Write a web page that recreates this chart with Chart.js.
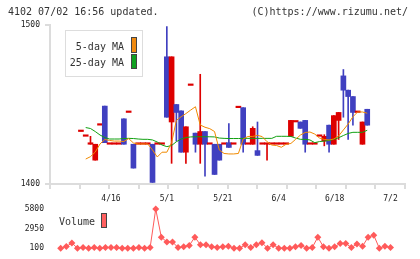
<!DOCTYPE html>
<html>
<head>
<meta charset="utf-8">
<script src="https://cdn.jsdelivr.net/npm/chart.js@4"></script>
<style>
body { margin: 0; background: #fff; font-family: 'DejaVu Sans Mono', monospace; color: #333; }
#wrap { position: relative; width: 420px; height: 259px; overflow: hidden; }
canvas { position: absolute; left: 0; }
.t { position: absolute; font-size: 10px; line-height: 14px; white-space: nowrap; }
.box { position: absolute; box-sizing: border-box; border: 1.5px solid #444; }
</style>
</head>
<body>
<div id="wrap">
  <canvas id="priceChart" width="420" height="200" style="top:0"></canvas>
  <canvas id="volumeChart" width="420" height="69" style="top:190px"></canvas>
  <div class="t" style="left:8px;top:5px">4102 07/02 16:56 updated.</div>
  <div class="t" style="right:12px;top:5px">(C)https://www.rizumu.net/</div>
  <div style="position:absolute;left:65px;top:30px;width:78px;height:47px;box-sizing:border-box;border:1px solid #ddd;background:#fff"></div>
  <div class="t" style="left:40px;width:84px;text-align:right;top:40px">5-day MA</div>
  <div class="box" style="left:131px;top:37px;width:6px;height:16px;background:#f08a10"></div>
  <div class="t" style="left:40px;width:84px;text-align:right;top:56px">25-day MA</div>
  <div class="box" style="left:131px;top:54px;width:6px;height:15px;background:#10a020"></div>
  <div class="t" style="left:59px;top:215px">Volume</div>
  <div class="box" style="left:101px;top:213px;width:6px;height:15px;background:#ff6060"></div>
</div>
<script>
const dates = ['4/2','4/3','4/4','4/5','4/8','4/9','4/10','4/11','4/12','4/15',
  '4/16','4/17','4/18','4/19','4/22','4/23','4/24','4/25','4/26','4/30',
  '5/1','5/8','5/9','5/10','5/13','5/14','5/15','5/16','5/17','5/20',
  '5/21','5/22','5/23','5/24','5/27','5/28','5/29','5/30','5/31','6/3',
  '6/4','6/5','6/6','6/7','6/10','6/11','6/12','6/13','6/14','6/17',
  '6/18','6/19','6/20','6/21','6/24','6/25','6/26','6/27','6/28','7/1','7/2'];

const opens = [1433,1430,1425,1415,1437,1449,1425,1425,1425,1441,1445,1425,1425,1425,1425,1425,1425,1425,1480,1439,
  1450,1446,1420,1462,1432,1425,1433,1425,1425,1425,1425,1426,1425,1448,1448,1425,1425,1421,1425,1425,
  1425,1425,1425,1425,1430,1439,1439,1440,1425,1425,1430,1427,1437,1425,1440,1468,1459,1455,1445,1425,1447];
const highs = [1433,1430,1430,1425,1437,1449,1425,1425,1425,1441,1445,1425,1425,1425,1425,1425,1425,1425,1499,1480,
  1450,1446,1436,1462,1432,1469,1433,1425,1425,1425,1425,1438,1425,1448,1448,1425,1436,1439,1425,1425,
  1425,1425,1425,1425,1440,1439,1439,1440,1425,1425,1430,1431,1437,1443,1445,1472,1459,1455,1445,1439,1447];
const lows = [1433,1430,1425,1415,1437,1426,1425,1425,1425,1425,1445,1410,1425,1425,1425,1401,1425,1425,1442,1413,
  1427,1420,1413,1462,1420,1413,1405,1425,1406,1415,1425,1423,1425,1448,1420,1425,1425,1418,1425,1415,
  1425,1425,1425,1425,1430,1439,1435,1420,1425,1425,1430,1424,1420,1425,1428,1442,1428,1437,1445,1425,1437];
const closes = [1433,1430,1425,1425,1437,1426,1425,1425,1425,1425,1445,1410,1425,1425,1425,1401,1425,1425,1442,1480,
  1445,1420,1436,1462,1425,1433,1425,1425,1406,1415,1425,1423,1425,1448,1425,1425,1435,1418,1425,1425,
  1425,1425,1425,1425,1440,1439,1435,1425,1425,1425,1430,1430,1425,1443,1445,1459,1455,1445,1445,1439,1437];

const ma5 = [null,1415.7,1417.2,1420.1,1425.2,1428.0,1427.4,1427.0,1427.0,1426.7,1428.6,1425.8,1425.2,1425.2,1425.2,
  1421.4,1417.0,1420.0,1420.0,1426.0,1440.0,1442.3,1444.3,1446.5,1448.6,1437.1,1435.7,1434.8,1433.0,1421.4,
  1419.2,1418.9,1418.9,1419.2,1428.3,1429.9,1429.9,1430.6,1429.8,1426.6,1424.5,1424.2,1423.1,1425.0,1425.5,
  1428.1,1430.8,1432.4,1432.7,1431.4,1428.9,1428.0,1427.7,1428.3,1430.2,1434.0,1437.7,1442.3,1445.3,1445.3,1444.5];
const ma25 = [null,1435.5,1434.9,1433.0,1430.8,1429.2,1428.3,1428.3,1428.3,1428.6,1428.7,1428.6,1428.3,1428.1,1428.1,
  1427.7,1426.4,1424.5,1423.5,1424.2,1426.6,1428.3,1429.2,1429.6,1429.7,1429.7,1429.7,1429.7,1429.6,1428.9,
  1428.7,1428.6,1428.6,1428.6,1428.7,1428.7,1428.7,1428.7,1428.7,1428.7,1428.7,1430.0,1430.0,1430.0,1429.9,
  1428.9,1428.1,1428.1,1427.7,1426.0,1426.7,1427.0,1427.4,1428.1,1429.1,1430.5,1431.8,1432.5,1432.5,1432.5,1433.8];

const volumes = [null,100,340,860,100,200,100,200,100,200,200,200,100,100,100,200,100,200,5800,1700,
  1000,1000,200,300,500,1700,600,600,300,200,300,400,100,100,600,200,600,900,100,600,
  100,100,100,300,500,100,200,1700,300,100,300,800,800,200,700,400,1700,2000,100,400,200];

const priceTicks = [1400, 1500];
const volumeTicks = [100, 2950, 5800];
const dateTicks = [10, 20, 30, 40, 50, 60];

const UP = '#dd0000', DOWN = '#4040c0';
const candleColor = closes.map((c, i) => c < opens[i] ? DOWN : UP);
const mono = 'DejaVu Sans Mono';
const axisGrey = '#dcdcdc';

function series(arr) {
  return arr.map((v, i) => ({ x: i, y: v })).filter(p => p.y !== null);
}

const bodies = opens.map((o, i) => ({ x: i, y: [Math.min(o, closes[i]), Math.max(o, closes[i])] }));
const wicks = highs.map((h, i) => ({ x: i, y: [lows[i], h] })).filter(p => p.y[0] !== p.y[1]);

new Chart(document.getElementById('priceChart'), {
  type: 'bar',
  data: {
    datasets: [
      { type: 'line', label: '5-day MA', data: series(ma5), borderColor: '#f08a00', borderWidth: 1, pointRadius: 0, order: 0 },
      { type: 'line', label: '25-day MA', data: series(ma25), borderColor: '#10a010', borderWidth: 1, pointRadius: 0, order: 1 },
      { label: 'body', data: bodies, backgroundColor: c => candleColor[c.raw.x], barThickness: 5, minBarLength: 1.5, grouped: false, order: 2 },
      { label: 'wick', data: wicks, backgroundColor: c => candleColor[c.raw.x], barThickness: 1, grouped: false, order: 3 }
    ]
  },
  options: {
    responsive: false,
    animation: false,
    layout: { padding: { top: 25, right: 15, left: 0, bottom: 0 } },
    plugins: { legend: { display: false }, tooltip: { enabled: false } },
    scales: {
      x: { type: 'linear', min: -1.17, max: 62.6, display: false },
      xg: {
        type: 'linear', position: 'bottom', min: 0, max: 11,
        ticks: { display: false, stepSize: 1 },
        grid: { drawOnChartArea: false, tickLength: 5, color: axisGrey, lineWidth: 2 },
        border: { color: axisGrey, width: 2 },
        afterFit: s => { s.height = 16; }
      },
      y: {
        min: 1400, max: 1500,
        afterBuildTicks: s => { s.ticks = priceTicks.map(v => ({ value: v })); },
        ticks: { callback: v => String(v), font: { family: mono, size: 8 }, color: '#222', padding: 5 },
        grid: { drawOnChartArea: false, tickLength: 5, color: axisGrey, lineWidth: 2 },
        border: { color: axisGrey, width: 2 },
        afterFit: s => { s.width = 50; }
      }
    }
  }
});

new Chart(document.getElementById('volumeChart'), {
  type: 'line',
  data: {
    datasets: [{
      label: 'Volume', data: series(volumes),
      borderColor: '#ff5a5a', backgroundColor: '#ff5a5a', borderWidth: 1,
      pointStyle: 'rectRot', pointRadius: 3.5, pointBorderWidth: 0, clip: false
    }]
  },
  options: {
    responsive: false,
    animation: false,
    layout: { padding: { top: 0, right: 15, left: 0, bottom: 10 } },
    plugins: { legend: { display: false }, tooltip: { enabled: false } },
    scales: {
      x: {
        type: 'linear', position: 'top', min: -0.914, max: 62.594,
        afterBuildTicks: s => { s.ticks = dateTicks.map(v => ({ value: v })); },
        ticks: { callback: v => dates[v], font: { family: mono, size: 8 }, color: '#222', maxRotation: 0, autoSkip: false, padding: 5 },
        grid: { display: false, drawTicks: false },
        border: { display: false },
        afterFit: s => { s.height = 19; }
      },
      y: {
        min: 100, max: 5800,
        afterBuildTicks: s => { s.ticks = volumeTicks.map(v => ({ value: v })); },
        ticks: { callback: v => String(v), font: { family: mono, size: 8 }, color: '#222', padding: 6 },
        grid: { display: false, drawTicks: false },
        border: { display: false },
        afterFit: s => { s.width = 50; }
      }
    }
  }
});
</script>
</body>
</html>
